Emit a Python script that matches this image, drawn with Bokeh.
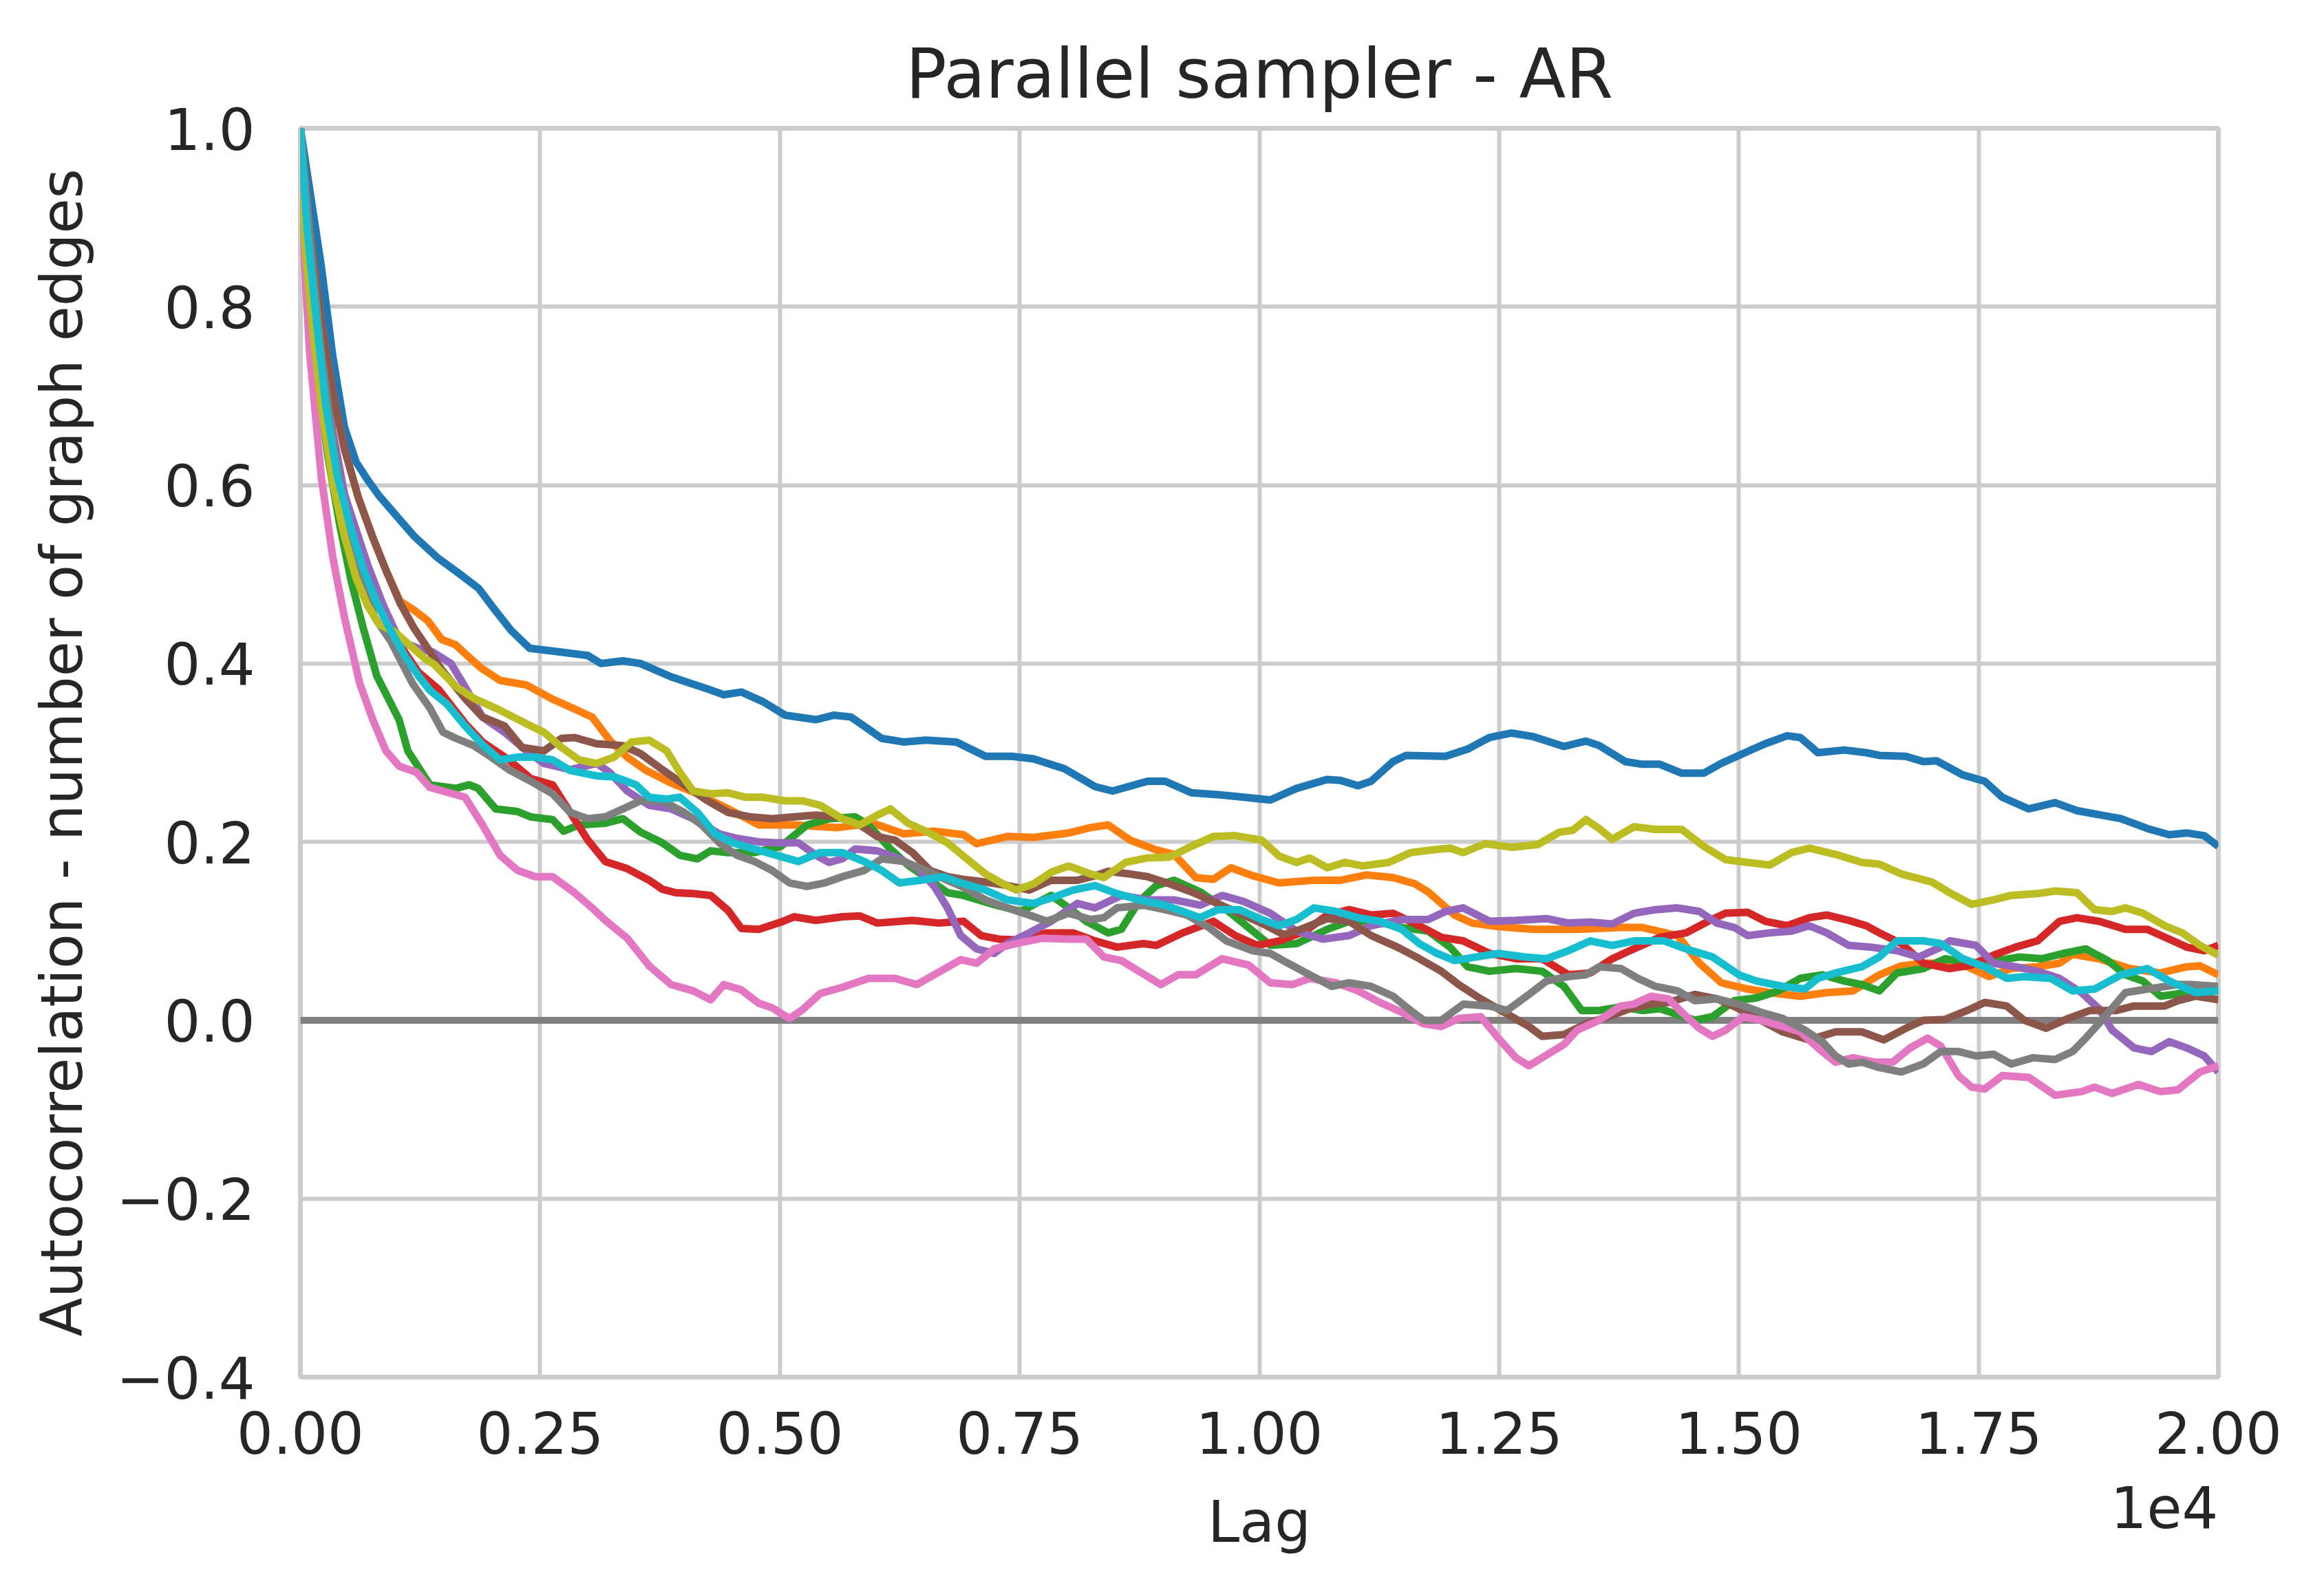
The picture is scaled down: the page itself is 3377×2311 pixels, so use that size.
from bokeh.plotting import figure
from bokeh.models import Span, FixedTicker, Range1d, LinearAxis
from bokeh.embed import file_html
from bokeh.resources import INLINE

# ---------------- data ----------------
title_text = "Parallel sampler - AR"
x_label = "Lag"
y_label = "Autocorrelation - number of graph edges"

x_ticks = [0, 2500, 5000, 7500, 10000, 12500, 15000, 17500, 20000]
x_tick_labels = ["0.00", "0.25", "0.50", "0.75", "1.00", "1.25", "1.50", "1.75", "2.00"]
x_offset_text = "1e4"
y_ticks = [-0.4, -0.2, 0.0, 0.2, 0.4, 0.6, 0.8, 1.0]
y_tick_labels = ["\u22120.4", "\u22120.2", "0.0", "0.2", "0.4", "0.6", "0.8", "1.0"]

chain_colors = ["#1f77b4", "#ff7f0e", "#2ca02c", "#d62728", "#9467bd",
                "#8c564b", "#e377c2", "#7f7f7f", "#bcbd22", "#17becf"]

blue_lag = [0, 217, 338, 459, 580, 700, 821, 990, 1183, 1425, 1666, 1860, 2029, 2198, 2391, 2630, 2997, 3134, 3363, 3546, 3866, 4232, 4415, 4598, 4827, 5055, 5376, 5559, 5742, 6062, 6291, 6520, 6840, 7144, 7418, 7646, 7966, 8286, 8469, 8834, 9017, 9291, 9566, 9840, 10114, 10388, 10708, 10845, 11028, 11165, 11394, 11531, 11942, 12171, 12400, 12629, 12857, 13177, 13406, 13543, 13817, 13993, 14176, 14405, 14634, 14817, 15000, 15275, 15504, 15641, 15824, 16099, 16328, 16465, 16740, 16923, 17060, 17335, 17564, 17747, 18022, 18297, 18526, 18984, 19259, 19487, 19670, 19853, 20000]
blue_acf = [1.0, 0.846, 0.744, 0.665, 0.626, 0.606, 0.588, 0.567, 0.543, 0.519, 0.50, 0.484, 0.46, 0.437, 0.417, 0.414, 0.409, 0.40, 0.403, 0.40, 0.385, 0.372, 0.365, 0.368, 0.357, 0.342, 0.337, 0.342, 0.34, 0.316, 0.312, 0.314, 0.312, 0.296, 0.296, 0.293, 0.282, 0.262, 0.257, 0.268, 0.268, 0.255, 0.253, 0.25, 0.247, 0.26, 0.27, 0.269, 0.263, 0.268, 0.29, 0.297, 0.296, 0.304, 0.317, 0.322, 0.318, 0.307, 0.313, 0.308, 0.29, 0.287, 0.287, 0.277, 0.277, 0.288, 0.297, 0.31, 0.319, 0.317, 0.30, 0.303, 0.30, 0.297, 0.296, 0.29, 0.291, 0.275, 0.268, 0.25, 0.237, 0.244, 0.235, 0.226, 0.215, 0.208, 0.21, 0.207, 0.195]

orange_lag = [0, 97, 217, 338, 459, 604, 749, 894, 1038, 1183, 1328, 1473, 1618, 1739, 1884, 2082, 2356, 2630, 2859, 3042, 3225, 3408, 3591, 3866, 4140, 4461, 4781, 5147, 5604, 5970, 6291, 6611, 6915, 7052, 7372, 7646, 8012, 8240, 8423, 8652, 8926, 9109, 9337, 9520, 9703, 9931, 10206, 10571, 10845, 11119, 11394, 11622, 11759, 12034, 12217, 12491, 12857, 13314, 13771, 13993, 14359, 14588, 14817, 15092, 15321, 15641, 15916, 16191, 16465, 16694, 16923, 17152, 17381, 17610, 17839, 18114, 18343, 18480, 18755, 19075, 19396, 19670, 19808, 20000]
orange_acf = [1.0, 0.885, 0.783, 0.704, 0.641, 0.586, 0.543, 0.504, 0.47, 0.46, 0.448, 0.427, 0.421, 0.409, 0.395, 0.381, 0.376, 0.36, 0.349, 0.34, 0.314, 0.295, 0.281, 0.266, 0.254, 0.237, 0.219, 0.219, 0.216, 0.221, 0.209, 0.212, 0.208, 0.198, 0.206, 0.205, 0.21, 0.216, 0.219, 0.202, 0.191, 0.186, 0.16, 0.158, 0.171, 0.162, 0.154, 0.157, 0.157, 0.163, 0.16, 0.153, 0.144, 0.118, 0.109, 0.105, 0.102, 0.102, 0.104, 0.104, 0.095, 0.064, 0.042, 0.035, 0.031, 0.027, 0.031, 0.033, 0.051, 0.061, 0.064, 0.064, 0.06, 0.049, 0.058, 0.06, 0.064, 0.074, 0.069, 0.058, 0.053, 0.06, 0.061, 0.051]

green_lag = [0, 48, 169, 290, 411, 531, 652, 797, 1029, 1121, 1350, 1624, 1761, 1853, 2036, 2265, 2402, 2630, 2745, 2905, 3180, 3363, 3546, 3774, 3957, 4140, 4278, 4461, 4735, 5010, 5284, 5513, 5787, 5925, 6153, 6336, 6565, 6748, 6915, 7189, 7509, 7829, 8012, 8195, 8423, 8560, 8743, 8926, 9109, 9383, 9657, 9931, 10114, 10388, 10708, 10937, 11211, 11485, 11759, 11988, 12171, 12400, 12674, 12948, 13177, 13360, 13543, 13771, 13993, 14176, 14542, 14725, 14954, 15183, 15412, 15641, 15870, 16099, 16282, 16465, 16648, 16923, 17152, 17381, 17701, 17930, 18159, 18388, 18617, 18846, 19030, 19213, 19396, 19670, 20000]
green_acf = [1.0, 0.846, 0.728, 0.63, 0.555, 0.492, 0.441, 0.386, 0.337, 0.302, 0.264, 0.26, 0.264, 0.26, 0.237, 0.234, 0.228, 0.225, 0.212, 0.219, 0.221, 0.226, 0.211, 0.199, 0.185, 0.181, 0.19, 0.188, 0.188, 0.195, 0.219, 0.226, 0.228, 0.219, 0.192, 0.174, 0.157, 0.143, 0.14, 0.131, 0.122, 0.14, 0.126, 0.111, 0.098, 0.102, 0.133, 0.151, 0.157, 0.144, 0.124, 0.10, 0.084, 0.086, 0.102, 0.111, 0.111, 0.104, 0.10, 0.082, 0.06, 0.055, 0.058, 0.055, 0.038, 0.011, 0.011, 0.015, 0.011, 0.013, 0.0, 0.004, 0.022, 0.025, 0.033, 0.047, 0.051, 0.044, 0.04, 0.033, 0.053, 0.058, 0.069, 0.064, 0.067, 0.071, 0.069, 0.075, 0.08, 0.067, 0.051, 0.044, 0.027, 0.031, 0.035]

red_lag = [0, 97, 217, 338, 459, 604, 773, 942, 1087, 1232, 1441, 1716, 1899, 2173, 2402, 2630, 2814, 2997, 3180, 3408, 3637, 3774, 3912, 4095, 4278, 4461, 4598, 4781, 5010, 5147, 5376, 5650, 5833, 6016, 6382, 6657, 6915, 7098, 7281, 7509, 7783, 8058, 8286, 8515, 8789, 8926, 9200, 9520, 9748, 9977, 10206, 10480, 10708, 10937, 11165, 11394, 11668, 11897, 12125, 12400, 12674, 12948, 13223, 13451, 13680, 13863, 14176, 14450, 14679, 14863, 15092, 15275, 15504, 15733, 15916, 16145, 16328, 16465, 16694, 16923, 17198, 17427, 17656, 17885, 18114, 18343, 18526, 18755, 19030, 19259, 19487, 19670, 19853, 20000]
red_acf = [1.0, 0.87, 0.74, 0.63, 0.57, 0.519, 0.476, 0.441, 0.413, 0.39, 0.371, 0.333, 0.312, 0.292, 0.271, 0.264, 0.233, 0.202, 0.178, 0.17, 0.157, 0.147, 0.143, 0.142, 0.14, 0.123, 0.103, 0.102, 0.11, 0.116, 0.112, 0.116, 0.117, 0.109, 0.112, 0.109, 0.111, 0.095, 0.091, 0.09, 0.098, 0.098, 0.089, 0.082, 0.086, 0.084, 0.098, 0.111, 0.095, 0.084, 0.089, 0.10, 0.118, 0.124, 0.118, 0.12, 0.106, 0.093, 0.089, 0.075, 0.069, 0.069, 0.051, 0.053, 0.069, 0.078, 0.093, 0.098, 0.111, 0.12, 0.121, 0.111, 0.106, 0.115, 0.118, 0.112, 0.106, 0.098, 0.086, 0.064, 0.058, 0.062, 0.073, 0.082, 0.089, 0.111, 0.115, 0.111, 0.102, 0.102, 0.091, 0.082, 0.078, 0.084]

purple_lag = [0, 97, 217, 338, 459, 580, 700, 869, 1038, 1232, 1377, 1570, 1716, 1899, 2127, 2356, 2539, 2814, 3088, 3225, 3408, 3637, 3866, 4095, 4369, 4552, 4781, 4964, 5193, 5376, 5513, 5650, 5787, 6016, 6245, 6428, 6611, 6748, 6886, 7052, 7235, 7372, 7600, 7829, 8103, 8286, 8560, 8834, 9109, 9383, 9611, 9840, 10114, 10388, 10662, 10937, 11165, 11485, 11759, 11942, 12125, 12400, 12674, 12994, 13223, 13451, 13680, 13908, 14130, 14359, 14588, 14771, 14954, 15092, 15321, 15550, 15733, 15916, 16145, 16374, 16648, 16877, 17106, 17198, 17473, 17656, 17885, 18114, 18343, 18572, 18755, 18892, 19121, 19304, 19487, 19670, 19853, 20000]
purple_acf = [1.0, 0.88, 0.76, 0.66, 0.59, 0.55, 0.511, 0.464, 0.425, 0.417, 0.413, 0.40, 0.374, 0.34, 0.323, 0.302, 0.288, 0.281, 0.288, 0.278, 0.257, 0.241, 0.237, 0.226, 0.209, 0.204, 0.20, 0.199, 0.199, 0.185, 0.177, 0.181, 0.192, 0.19, 0.181, 0.171, 0.15, 0.126, 0.095, 0.08, 0.075, 0.086, 0.098, 0.111, 0.131, 0.126, 0.14, 0.135, 0.135, 0.129, 0.14, 0.133, 0.12, 0.10, 0.091, 0.095, 0.106, 0.113, 0.113, 0.122, 0.126, 0.111, 0.112, 0.114, 0.109, 0.11, 0.108, 0.12, 0.124, 0.126, 0.122, 0.109, 0.104, 0.095, 0.098, 0.10, 0.106, 0.098, 0.084, 0.082, 0.078, 0.071, 0.082, 0.089, 0.084, 0.064, 0.06, 0.055, 0.047, 0.031, 0.013, -0.011, -0.031, -0.035, -0.024, -0.031, -0.04, -0.058]

brown_lag = [0, 97, 217, 338, 459, 604, 749, 894, 1038, 1183, 1328, 1473, 1716, 1899, 2127, 2310, 2539, 2722, 2859, 3088, 3363, 3546, 3774, 4003, 4232, 4461, 4689, 4918, 5147, 5376, 5604, 5833, 6016, 6199, 6382, 6565, 6748, 6915, 7144, 7372, 7600, 7829, 8103, 8286, 8423, 8652, 8834, 9063, 9291, 9520, 9748, 10023, 10251, 10434, 10708, 10937, 11165, 11439, 11668, 11897, 12079, 12308, 12583, 12811, 12948, 13177, 13406, 13634, 13863, 14078, 14267, 14542, 14771, 15000, 15229, 15458, 15733, 16008, 16282, 16511, 16740, 16923, 17152, 17381, 17564, 17793, 17976, 18205, 18434, 18663, 18938, 19121, 19441, 19579, 19762, 20000]
brown_acf = [1.0, 0.885, 0.783, 0.704, 0.641, 0.586, 0.543, 0.504, 0.468, 0.44, 0.417, 0.393, 0.361, 0.34, 0.33, 0.306, 0.302, 0.316, 0.317, 0.31, 0.308, 0.299, 0.281, 0.264, 0.247, 0.233, 0.228, 0.226, 0.228, 0.23, 0.228, 0.219, 0.206, 0.202, 0.188, 0.168, 0.161, 0.158, 0.155, 0.151, 0.146, 0.157, 0.157, 0.162, 0.167, 0.164, 0.161, 0.153, 0.144, 0.133, 0.122, 0.109, 0.096, 0.102, 0.114, 0.111, 0.095, 0.082, 0.069, 0.055, 0.04, 0.024, 0.007, -0.007, -0.018, -0.016, -0.004, 0.004, 0.013, 0.018, 0.02, 0.029, 0.024, 0.013, 0.0, -0.013, -0.022, -0.013, -0.013, -0.022, -0.009, 0.0, 0.001, 0.011, 0.02, 0.016, 0.0, -0.009, 0.002, 0.011, 0.011, 0.016, 0.016, 0.022, 0.027, 0.023]

pink_lag = [0, 24, 97, 217, 338, 459, 618, 755, 892, 1029, 1212, 1350, 1487, 1716, 1899, 2082, 2265, 2448, 2630, 2859, 3042, 3180, 3408, 3637, 3866, 4095, 4278, 4415, 4598, 4781, 4918, 5101, 5238, 5421, 5650, 5925, 6199, 6428, 6657, 6886, 7052, 7235, 7463, 7738, 8012, 8195, 8378, 8560, 8743, 8972, 9154, 9337, 9611, 9886, 10114, 10343, 10525, 10800, 11028, 11257, 11485, 11714, 11897, 12079, 12308, 12491, 12674, 12811, 12948, 13177, 13314, 13543, 13771, 13901, 14084, 14267, 14405, 14588, 14725, 14863, 15046, 15229, 15458, 15641, 15824, 16008, 16191, 16420, 16603, 16786, 16969, 17106, 17289, 17427, 17564, 17747, 18022, 18297, 18572, 18709, 18892, 19167, 19396, 19579, 19808, 20000]
pink_acf = [1.0, 0.885, 0.748, 0.61, 0.519, 0.452, 0.378, 0.337, 0.302, 0.285, 0.278, 0.261, 0.257, 0.25, 0.219, 0.185, 0.168, 0.161, 0.161, 0.143, 0.126, 0.112, 0.092, 0.061, 0.04, 0.033, 0.023, 0.04, 0.034, 0.019, 0.014, 0.002, 0.012, 0.03, 0.037, 0.047, 0.047, 0.04, 0.054, 0.068, 0.064, 0.08, 0.086, 0.092, 0.091, 0.091, 0.071, 0.067, 0.055, 0.04, 0.051, 0.051, 0.069, 0.062, 0.042, 0.04, 0.047, 0.042, 0.033, 0.02, 0.009, -0.004, -0.007, 0.002, 0.004, -0.02, -0.042, -0.051, -0.042, -0.027, -0.011, 0.0, 0.016, 0.018, 0.027, 0.024, 0.009, -0.009, -0.018, -0.011, 0.004, 0.0, -0.007, -0.013, -0.031, -0.047, -0.042, -0.047, -0.047, -0.031, -0.02, -0.029, -0.062, -0.075, -0.077, -0.062, -0.064, -0.084, -0.08, -0.075, -0.082, -0.072, -0.08, -0.078, -0.058, -0.051]

gray_lag = [0, 97, 217, 338, 459, 604, 773, 942, 1063, 1167, 1350, 1487, 1624, 1807, 1990, 2173, 2402, 2630, 2814, 2997, 3180, 3363, 3546, 3774, 4003, 4186, 4369, 4552, 4735, 4918, 5101, 5284, 5467, 5650, 5879, 6062, 6291, 6520, 6748, 6915, 7144, 7372, 7600, 7783, 8012, 8240, 8378, 8515, 8789, 9017, 9246, 9474, 9657, 9931, 10114, 10297, 10525, 10754, 10937, 11165, 11394, 11577, 11714, 11897, 12125, 12400, 12583, 12811, 12994, 13223, 13406, 13543, 13771, 13947, 14130, 14359, 14542, 14771, 15000, 15229, 15458, 15687, 15870, 16008, 16145, 16282, 16465, 16694, 16923, 17106, 17289, 17473, 17656, 17839, 18068, 18297, 18480, 18617, 18801, 19030, 19259, 19579, 19716, 20000]
gray_acf = [1.0, 0.88, 0.75, 0.65, 0.57, 0.51, 0.452, 0.425, 0.40, 0.378, 0.35, 0.323, 0.316, 0.308, 0.295, 0.281, 0.268, 0.254, 0.233, 0.226, 0.228, 0.237, 0.246, 0.246, 0.233, 0.219, 0.199, 0.185, 0.178, 0.168, 0.154, 0.15, 0.154, 0.161, 0.168, 0.181, 0.178, 0.168, 0.157, 0.149, 0.135, 0.126, 0.118, 0.111, 0.12, 0.113, 0.115, 0.126, 0.129, 0.124, 0.118, 0.104, 0.089, 0.078, 0.075, 0.064, 0.051, 0.038, 0.042, 0.038, 0.027, 0.011, 0.0, 0.0, 0.018, 0.016, 0.011, 0.029, 0.044, 0.049, 0.051, 0.06, 0.058, 0.047, 0.038, 0.033, 0.022, 0.024, 0.018, 0.009, 0.002, -0.011, -0.024, -0.04, -0.049, -0.047, -0.053, -0.058, -0.049, -0.035, -0.035, -0.04, -0.038, -0.049, -0.042, -0.044, -0.035, -0.02, 0.002, 0.031, 0.035, 0.04, 0.04, 0.038]

olive_lag = [0, 48, 121, 217, 338, 459, 580, 700, 821, 990, 1135, 1304, 1395, 1624, 1807, 2036, 2219, 2402, 2539, 2722, 2905, 3088, 3271, 3454, 3637, 3820, 3957, 4095, 4278, 4461, 4644, 4827, 5055, 5238, 5421, 5650, 5833, 6016, 6153, 6336, 6520, 6748, 6915, 7144, 7326, 7463, 7646, 7829, 8012, 8240, 8378, 8606, 8834, 9063, 9291, 9520, 9748, 10023, 10206, 10388, 10525, 10708, 10891, 11074, 11348, 11577, 11805, 11988, 12125, 12354, 12629, 12903, 13131, 13268, 13406, 13543, 13680, 13908, 14130, 14405, 14634, 14863, 15092, 15321, 15550, 15733, 16008, 16282, 16465, 16694, 17014, 17198, 17427, 17656, 17839, 18114, 18297, 18526, 18709, 18892, 19030, 19213, 19441, 19625, 19808, 20000]
olive_acf = [1.0, 0.87, 0.783, 0.689, 0.602, 0.543, 0.496, 0.465, 0.444, 0.435, 0.421, 0.405, 0.399, 0.374, 0.361, 0.35, 0.34, 0.33, 0.323, 0.306, 0.292, 0.288, 0.295, 0.312, 0.314, 0.302, 0.278, 0.257, 0.254, 0.255, 0.25, 0.25, 0.246, 0.246, 0.241, 0.226, 0.219, 0.23, 0.237, 0.221, 0.212, 0.199, 0.184, 0.164, 0.153, 0.146, 0.153, 0.166, 0.173, 0.164, 0.16, 0.177, 0.182, 0.183, 0.195, 0.206, 0.207, 0.202, 0.184, 0.177, 0.182, 0.171, 0.177, 0.173, 0.177, 0.188, 0.191, 0.193, 0.188, 0.198, 0.194, 0.197, 0.211, 0.213, 0.225, 0.215, 0.203, 0.217, 0.214, 0.214, 0.195, 0.18, 0.177, 0.174, 0.188, 0.193, 0.186, 0.177, 0.175, 0.164, 0.155, 0.143, 0.13, 0.135, 0.14, 0.142, 0.145, 0.143, 0.124, 0.122, 0.126, 0.12, 0.106, 0.098, 0.084, 0.073]

cyan_lag = [0, 72, 169, 266, 386, 507, 652, 797, 942, 1087, 1232, 1350, 1533, 1716, 1899, 2082, 2265, 2448, 2630, 2814, 3088, 3271, 3500, 3637, 3820, 3957, 4140, 4324, 4507, 4735, 4964, 5193, 5421, 5650, 5879, 6062, 6245, 6474, 6703, 6886, 7144, 7372, 7646, 7829, 8058, 8286, 8515, 8743, 9017, 9200, 9383, 9566, 9794, 10023, 10206, 10388, 10571, 10800, 11028, 11257, 11485, 11668, 11851, 12034, 12262, 12491, 12765, 12994, 13223, 13451, 13680, 13908, 14222, 14450, 14725, 15000, 15183, 15458, 15687, 15824, 16008, 16282, 16465, 16648, 16923, 17106, 17335, 17564, 17793, 17976, 18251, 18480, 18709, 18984, 19259, 19487, 19762, 20000]
cyan_acf = [1.0, 0.885, 0.783, 0.689, 0.61, 0.559, 0.507, 0.468, 0.437, 0.409, 0.386, 0.37, 0.354, 0.33, 0.309, 0.292, 0.295, 0.295, 0.292, 0.28, 0.274, 0.273, 0.264, 0.25, 0.248, 0.25, 0.233, 0.209, 0.199, 0.192, 0.185, 0.178, 0.188, 0.188, 0.178, 0.168, 0.154, 0.157, 0.161, 0.154, 0.146, 0.135, 0.131, 0.137, 0.146, 0.151, 0.142, 0.135, 0.129, 0.122, 0.115, 0.124, 0.124, 0.113, 0.106, 0.113, 0.126, 0.122, 0.115, 0.111, 0.102, 0.086, 0.075, 0.067, 0.071, 0.075, 0.071, 0.069, 0.078, 0.089, 0.084, 0.089, 0.089, 0.08, 0.071, 0.051, 0.044, 0.038, 0.035, 0.047, 0.053, 0.06, 0.071, 0.089, 0.089, 0.086, 0.069, 0.06, 0.047, 0.049, 0.047, 0.033, 0.035, 0.051, 0.058, 0.044, 0.031, 0.033]

series_lags = [blue_lag, orange_lag, green_lag, red_lag, purple_lag,
               brown_lag, pink_lag, gray_lag, olive_lag, cyan_lag]
series_acfs = [blue_acf, orange_acf, green_acf, red_acf, purple_acf,
               brown_acf, pink_acf, gray_acf, olive_acf, cyan_acf]

# ---------------- styling ----------------
FONT = "DejaVu Sans"
TXT = "#262626"
GRID = "#cccccc"
TICK_PX = "83px"

p = figure(width=3377, height=2311,
           x_range=Range1d(0, 20000), y_range=Range1d(-0.4, 1.0),
           output_backend="svg", toolbar_location=None,
           title=title_text,
           min_border_left=436, min_border_right=154,
           min_border_top=186, min_border_bottom=310)
p.background_fill_color = "white"
p.border_fill_color = "white"
p.outline_line_color = GRID
p.outline_line_width = 7

p.title.align = "center"
p.title.text_font = FONT
p.title.text_font_size = "99px"
p.title.text_font_style = "normal"
p.title.text_color = TXT
p.title.standoff = 44

p.xaxis.ticker = FixedTicker(ticks=x_ticks)
p.yaxis.ticker = FixedTicker(ticks=y_ticks)
p.xaxis.major_label_overrides = {t: s for t, s in zip(x_ticks, x_tick_labels)}
p.yaxis.major_label_overrides = {t: s for t, s in zip(y_ticks, y_tick_labels)}

# offset text "1e4" (matplotlib scientific offset) drawn by a bare helper axis,
# its single label right-aligned under the end of the x axis
half_offset_width = 563  # half the text width, in lag units
offset_axis = LinearAxis(ticker=FixedTicker(ticks=[x_ticks[-1] - half_offset_width]),
                         major_label_overrides={x_ticks[-1] - half_offset_width: x_offset_text})
p.add_layout(offset_axis, "below")

for ax in (p.xaxis, p.yaxis):
    ax.axis_line_color = None
    ax.major_tick_line_color = None
    ax.minor_tick_line_color = None
    ax.major_tick_out = 0
    ax.major_tick_in = 0
    ax.major_label_text_font = FONT
    ax.major_label_text_font_size = TICK_PX
    ax.major_label_text_color = TXT
    ax.axis_label_text_font = FONT
    ax.axis_label_text_font_size = TICK_PX
    ax.axis_label_text_font_style = "normal"
    ax.axis_label_text_color = TXT

p.xaxis[0].axis_label = x_label
p.yaxis.axis_label = y_label
p.xaxis[0].major_label_standoff = 49
p.yaxis.major_label_standoff = 66
p.xaxis[0].axis_label_standoff = 48
p.yaxis.axis_label_standoff = 27
offset_axis.major_label_standoff = -105

p.xgrid.grid_line_color = GRID
p.ygrid.grid_line_color = GRID
p.xgrid.grid_line_width = 6
p.ygrid.grid_line_width = 6
p.xgrid.ticker = FixedTicker(ticks=x_ticks)

zero = Span(location=0, dimension="width", line_color="#808080",
            line_width=10, level="underlay")
p.add_layout(zero)

for lags, acfs, col in zip(series_lags, series_acfs, chain_colors):
    p.line(lags, acfs, line_color=col, line_width=11, line_join="round")

open("out.html", "w").write(file_html(p, INLINE))
